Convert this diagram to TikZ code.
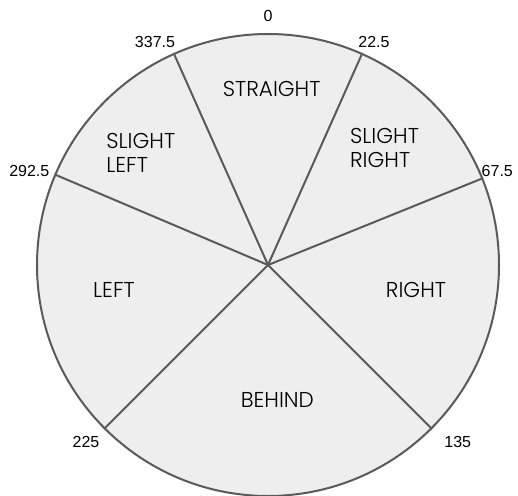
\documentclass[tikz,border=0pt]{standalone}
\usepackage{fontspec}
\setmainfont{Liberation Sans}
\newfontfamily\sectorfont{Poppins}[UprightFont=* Light]
\usepackage{tikz}
\usetikzlibrary{positioning}
\definecolor{rim}{RGB}{90,90,90}
\definecolor{wedge}{RGB}{238,238,238}

\begin{document}
\begin{tikzpicture}[
  x=1pt, y=1pt,
  disc/.style={circle, draw=rim, fill=wedge, line width=2pt,
               minimum size=462pt, inner sep=0pt},
  spoke/.style={draw=rim, line width=2pt},
  deg/.style={font=\fontsize{16}{19}\selectfont, inner sep=1pt},
  zone/.style={font=\sectorfont\fontsize{21.5}{24}\selectfont, align=left, inner sep=0pt},
]
\useasboundingbox (-268,-230) rectangle (250,265);

% the compass disc
\node[disc] (dial) at (0,0) {};
\coordinate (hub) at (0,0);

% borders between the zones (compass angles, clockwise from north)
\draw[spoke] (hub) -- (dial.114);
\draw[spoke] (hub) -- (dial.66);
\draw[spoke] (hub) -- (dial.22.8);
\draw[spoke] (hub) -- (dial.-45);
\draw[spoke] (hub) -- (dial.-135);
\draw[spoke] (hub) -- (dial.157);

% zone names
\node[zone] (straight) at (3.7,175.7) {STRAIGHT};
\node[zone] (sright) at (116.5,117) {SLIGHT\\RIGHT};
\node[zone] (sleft) at (-127.2,111.7) {SLIGHT\\LEFT};
\node[zone] (left) at (-154,-25) {LEFT};
\node[zone] (right) at (148,-25) {RIGHT};
\node[zone] (behind) at (9.3,-135) {BEHIND};

% angle marks
\node[deg] (d0) at (0,249) {0};
\node[deg] (d337) at (-113,222.7) {337.5};
\node[deg] (d22) at (106,222.7) {22.5};
\node[deg] (d292) at (-238.7,94.3) {292.5};
\node[deg] (d67) at (229.3,94.3) {67.5};
\node[deg] (d225) at (-182,-176.7) {225};
\node[deg] (d135) at (189.7,-176.7) {135};
\end{tikzpicture}
\end{document}
